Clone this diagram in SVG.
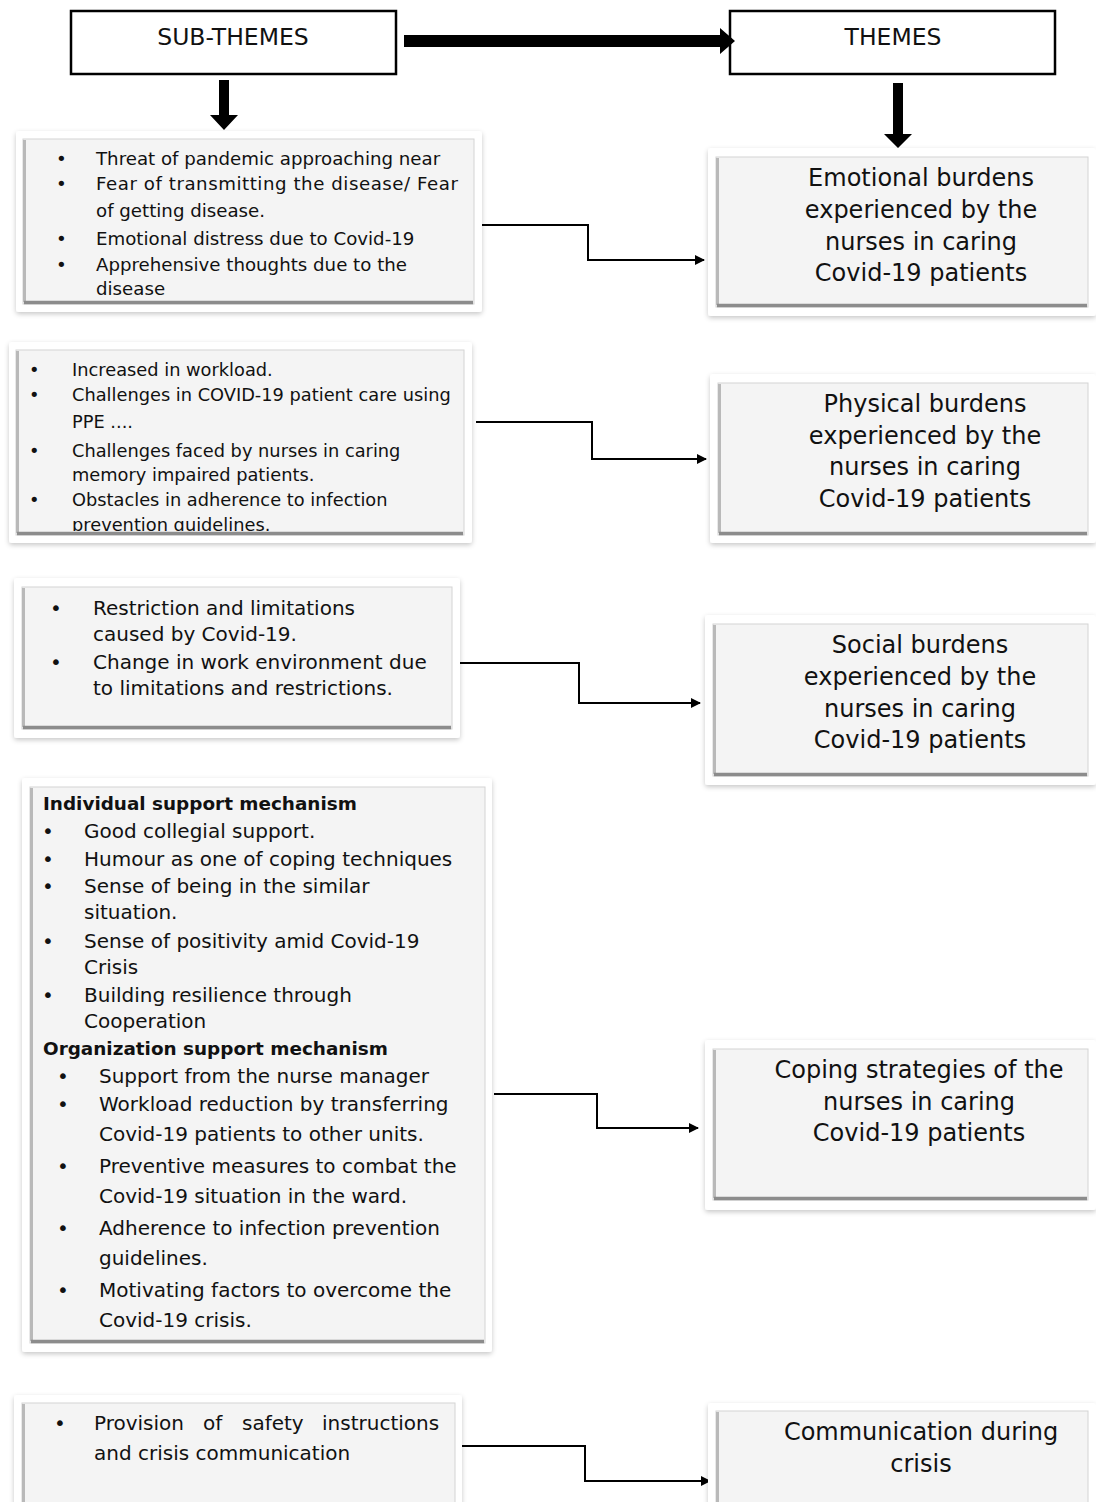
<svg xmlns="http://www.w3.org/2000/svg" width="1096" height="1502" viewBox="0 0 1096 1502">
<defs>
<filter id="sh" x="-5%" y="-5%" width="110%" height="112%">
<feDropShadow dx="0" dy="2" stdDeviation="2.5" flood-color="#000" flood-opacity="0.22"/>
</filter>
<marker id="ah" markerWidth="10" markerHeight="10" refX="9" refY="5" orient="auto" markerUnits="userSpaceOnUse">
<path d="M0,0 L10,5 L0,10 Z" fill="#000"/>
</marker>
<clipPath id="c2"><rect x="16" y="350" width="448" height="181"/></clipPath>
</defs>
<style>
.hdr{fill:#fff;stroke:#000;stroke-width:2.5}
.outer{fill:#fff;filter:url(#sh)}
.inner{fill:#f4f4f4;stroke:#d4d4d4;stroke-width:1}
.bl{fill:none;stroke:#b9b9b9;stroke-width:3}
.bb{fill:none;stroke:#8c8c8c;stroke-width:3.5}
text{font-family:"DejaVu Sans","Liberation Sans",sans-serif;fill:#111}
.h{font-size:23.5px;text-anchor:middle}
.t{font-size:24px;text-anchor:middle}
.s18{font-size:18.2px}
.s17{font-size:17.8px}
.s19{font-size:20px}
.b{font-weight:bold;font-size:18.4px}
.con{fill:none;stroke:#000;stroke-width:2}
.thick{fill:#000}
</style>

<g id="subthemes-header">
<rect class="hdr" x="71" y="11" width="325" height="63"/>
<text class="h" x="233" y="45">SUB-THEMES</text>
</g>
<g id="themes-header">
<rect class="hdr" x="730" y="11" width="325" height="63"/>
<text class="h" x="893" y="45">THEMES</text>
</g>

<g id="connectors">
<polygon class="thick" points="404,35 720,35 720,28 735,41 720,54 720,47 404,47"/>
<polygon class="thick" points="219,80 229,80 229,115 238,115 224,130 210,115 219,115"/>
<polygon class="thick" points="893,83 903,83 903,134 912,134 898,148 884,134 893,134"/>
<polyline class="con" points="482,225 588,225 588,260 704,260" marker-end="url(#ah)"/>
<polyline class="con" points="476,422 592,422 592,459 706,459" marker-end="url(#ah)"/>
<polyline class="con" points="458,663 579,663 579,703 700,703" marker-end="url(#ah)"/>
<polyline class="con" points="494,1094 597,1094 597,1128 698,1128" marker-end="url(#ah)"/>
<polyline class="con" points="462,1446 585,1446 585,1481 710,1481" marker-end="url(#ah)"/>
</g>

<g id="sub-emotional">
<rect class="outer" x="16" y="131" width="466" height="181" rx="3"/>
<rect class="inner" x="23" y="139" width="451" height="165"/>
<polyline class="bl" points="24.5,140 24.5,302"/>
<polyline class="bb" points="24,302.5 473,302.5"/>
<g class="s18">
<text x="56" y="165">•</text><text x="96" y="165">Threat of pandemic approaching near</text>
<text x="56" y="190">•</text><text x="96" y="190" textLength="362" lengthAdjust="spacing">Fear of transmitting the disease/ Fear</text>
<text x="96" y="217">of getting disease.</text>
<text x="56" y="245">•</text><text x="96" y="245">Emotional distress due to Covid-19</text>
<text x="56" y="271">•</text><text x="96" y="271">Apprehensive thoughts due to the</text>
<text x="96" y="295">disease</text>
</g>
</g>

<g id="theme-emotional">
<rect class="outer" x="708" y="148" width="388" height="168" rx="3"/>
<rect class="inner" x="716" y="157" width="372" height="150"/>
<polyline class="bl" points="717.5,158 717.5,305"/>
<polyline class="bb" points="717,305.5 1087,305.5"/>
<text class="t" x="921" y="186">Emotional burdens</text>
<text class="t" x="921" y="218">experienced by the</text>
<text class="t" x="921" y="250">nurses in caring</text>
<text class="t" x="921" y="281">Covid-19 patients</text>
</g>

<g id="sub-physical">
<rect class="outer" x="9" y="342" width="463" height="201" rx="3"/>
<rect class="inner" x="16" y="350" width="448" height="185"/>
<g class="s17" clip-path="url(#c2)">
<text x="29" y="376">•</text><text x="72" y="376">Increased in workload.</text>
<text x="29" y="401">•</text><text x="72" y="401">Challenges in COVID-19 patient care using</text>
<text x="72" y="428">PPE ....</text>
<text x="29" y="457">•</text><text x="72" y="457">Challenges faced by nurses in caring</text>
<text x="72" y="481">memory impaired patients.</text>
<text x="29" y="506">•</text><text x="72" y="506">Obstacles in adherence to infection</text>
<text x="72" y="531">prevention guidelines.</text>
</g>
<polyline class="bl" points="17.5,351 17.5,533"/>
<polyline class="bb" points="17,533.5 463,533.5"/>
</g>

<g id="theme-physical">
<rect class="outer" x="710" y="374" width="386" height="169" rx="3"/>
<rect class="inner" x="718" y="383" width="370" height="152"/>
<polyline class="bl" points="719.5,384 719.5,533"/>
<polyline class="bb" points="719,533.5 1087,533.5"/>
<text class="t" x="925" y="412">Physical burdens</text>
<text class="t" x="925" y="444">experienced by the</text>
<text class="t" x="925" y="475">nurses in caring</text>
<text class="t" x="925" y="507">Covid-19 patients</text>
</g>

<g id="sub-social">
<rect class="outer" x="14" y="578" width="446" height="160" rx="3"/>
<rect class="inner" x="22" y="587" width="430" height="142"/>
<polyline class="bl" points="23.5,588 23.5,727"/>
<polyline class="bb" points="23,727.5 451,727.5"/>
<g class="s19">
<text x="50" y="615">•</text><text x="93" y="615">Restriction and limitations</text>
<text x="93" y="641">caused by Covid-19.</text>
<text x="50" y="669">•</text><text x="93" y="669">Change in work environment due</text>
<text x="93" y="695">to limitations and restrictions.</text>
</g>
</g>

<g id="theme-social">
<rect class="outer" x="705" y="615" width="391" height="170" rx="3"/>
<rect class="inner" x="713" y="624" width="375" height="152"/>
<polyline class="bl" points="714.5,625 714.5,774"/>
<polyline class="bb" points="714,774.5 1087,774.5"/>
<text class="t" x="920" y="653">Social burdens</text>
<text class="t" x="920" y="685">experienced by the</text>
<text class="t" x="920" y="717">nurses in caring</text>
<text class="t" x="920" y="748">Covid-19 patients</text>
</g>

<g id="sub-coping">
<rect class="outer" x="22" y="778" width="470" height="574" rx="3"/>
<rect class="inner" x="30" y="787" width="455" height="556"/>
<polyline class="bl" points="31.5,788 31.5,1341"/>
<polyline class="bb" points="31,1341.5 484,1341.5"/>
<text class="b" x="43" y="810">Individual support mechanism</text>
<g class="s19">
<text x="42" y="838">•</text><text x="84" y="838">Good collegial support.</text>
<text x="42" y="866">•</text><text x="84" y="866">Humour as one of coping techniques</text>
<text x="42" y="893">•</text><text x="84" y="893">Sense of being in the similar</text>
<text x="84" y="919">situation.</text>
<text x="42" y="948">•</text><text x="84" y="948">Sense of positivity amid Covid-19</text>
<text x="84" y="974">Crisis</text>
<text x="42" y="1002">•</text><text x="84" y="1002">Building resilience through</text>
<text x="84" y="1028">Cooperation</text>
</g>
<text class="b" x="43" y="1055">Organization support mechanism</text>
<g class="s19">
<text x="57" y="1083">•</text><text x="99" y="1083">Support from the nurse manager</text>
<text x="57" y="1111">•</text><text x="99" y="1111">Workload reduction by transferring</text>
<text x="99" y="1141">Covid-19 patients to other units.</text>
<text x="57" y="1173">•</text><text x="99" y="1173">Preventive measures to combat the</text>
<text x="99" y="1203">Covid-19 situation in the ward.</text>
<text x="57" y="1235">•</text><text x="99" y="1235">Adherence to infection prevention</text>
<text x="99" y="1265">guidelines.</text>
<text x="57" y="1297">•</text><text x="99" y="1297">Motivating factors to overcome the</text>
<text x="99" y="1327">Covid-19 crisis.</text>
</g>
</g>

<g id="theme-coping">
<rect class="outer" x="705" y="1040" width="391" height="170" rx="3"/>
<rect class="inner" x="713" y="1049" width="375" height="151"/>
<polyline class="bl" points="714.5,1050 714.5,1198"/>
<polyline class="bb" points="714,1198.5 1087,1198.5"/>
<text class="t" x="919" y="1078">Coping strategies of the</text>
<text class="t" x="919" y="1110">nurses in caring</text>
<text class="t" x="919" y="1141">Covid-19 patients</text>
</g>

<g id="sub-communication">
<rect class="outer" x="14" y="1395" width="448" height="115" rx="3"/>
<rect class="inner" x="22" y="1403" width="433" height="110"/>
<polyline class="bl" points="23.5,1404 23.5,1502"/>
<g class="s19">
<text x="54" y="1430">•</text>
<text x="94" y="1430"><tspan x="94">Provision</tspan><tspan x="203">of</tspan><tspan x="242">safety</tspan><tspan x="322">instructions</tspan></text>
<text x="94" y="1460">and crisis communication</text>
</g>
</g>

<g id="theme-communication">
<rect class="outer" x="708" y="1403" width="388" height="110" rx="3"/>
<rect class="inner" x="716" y="1411" width="372" height="100"/>
<polyline class="bl" points="717.5,1412 717.5,1502"/>
<text class="t" x="921" y="1440">Communication during</text>
<text class="t" x="921" y="1472">crisis</text>
</g>
</svg>
